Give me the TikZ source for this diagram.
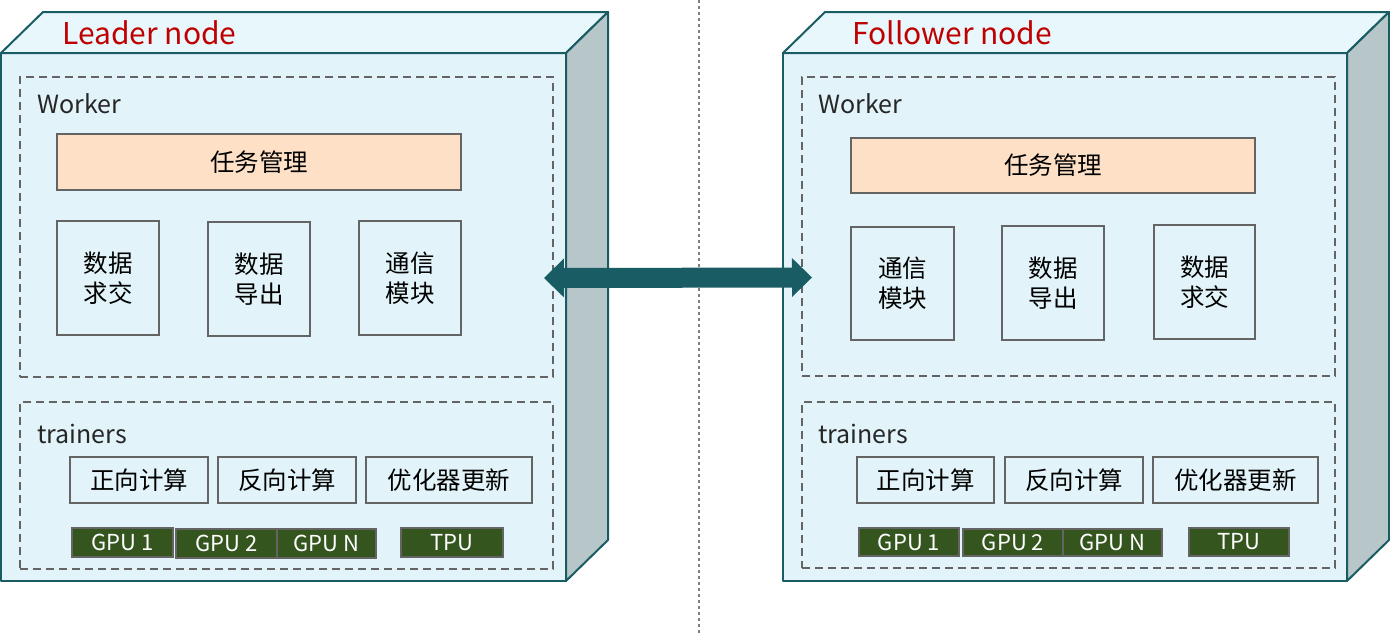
\documentclass[tikz,border=0pt]{standalone}
\usepackage{fontspec}
\setmainfont{Noto Sans CJK SC}
\usetikzlibrary{arrows.meta}
\usetikzlibrary{positioning}

\definecolor{edgeteal}{RGB}{26,92,99}
\definecolor{frontcyan}{RGB}{226,244,249}
\definecolor{topcyan}{RGB}{232,247,251}
\definecolor{sidegray}{RGB}{183,198,201}
\definecolor{boxgray}{RGB}{100,100,100}
\definecolor{peach}{RGB}{253,224,198}
\definecolor{gpugreen}{RGB}{52,86,30}
\definecolor{titlered}{RGB}{192,0,0}
\definecolor{dotgray}{RGB}{128,128,128}

\newcommand\boxfont{\fontsize{24.5}{30}\selectfont}
\newcommand\titlefont{\fontsize{30}{34}\selectfont}
\newcommand\groupfont{\fontsize{25}{29}\selectfont}
\newcommand\gpufont{\fontsize{22}{26}\selectfont}

\tikzset{
  frontface/.style={draw=edgeteal, line width=2pt, line join=round, fill=frontcyan},
  topface/.style={draw=edgeteal, line width=2pt, line join=round, fill=topcyan},
  sideface/.style={draw=edgeteal, line width=2pt, line join=round, fill=sidegray},
  group/.style={draw=boxgray, line width=2pt, dash pattern=on 8pt off 5pt, inner sep=0pt},
  plainbox/.style={draw=boxgray, line width=2pt, inner sep=0pt, align=center, font=\boxfont},
  taskbox/.style={plainbox, fill=peach},
  gpubox/.style={draw=boxgray, line width=2pt, fill=gpugreen, inner sep=0pt, text=white, font=\gpufont},
  nodetitle/.style={anchor=base west, inner sep=0pt, text=titlered, font=\titlefont},
  grouptitle/.style={anchor=base west, inner sep=0pt, text=black!85, font=\groupfont},
  link/.style={draw=edgeteal, line width=20pt,
    {Triangle[length=20pt,width=39pt,line width=0pt]}-{Triangle[length=20pt,width=39pt,line width=0pt]}},
  divider/.style={draw=dotgray, line width=2pt, dash pattern=on 3pt off 3pt}
}

\begin{document}
\begin{tikzpicture}[x=1pt,y=-1pt]
\useasboundingbox (0,0) rectangle (1390,633);

% divider
\draw[divider] (699,0) -- (699,633);

% leader node
\draw[frontface] (1,53) rectangle (566,581);
\draw[topface] (1,53) -- (43,12) -- (608,12) -- (566,53) -- cycle;
\draw[sideface] (566,53) -- (608,12) -- (608,540) -- (566,581) -- cycle;
\node[nodetitle] (lname) at (62,44) {Leader node};

\node[group, minimum width=533pt, minimum height=300pt] (lw) at (286.5,227) {};
\node[grouptitle] at (37,113) {Worker};
\node[taskbox, minimum width=404pt, minimum height=56pt] (ltask) at (259,162) {任务管理};
\node[plainbox, minimum width=102pt, minimum height=114pt] (lsec) at (108,278) {数据\\求交};
\node[plainbox, minimum width=102pt, minimum height=114pt] (lexp) at (259,279) {数据\\导出};
\node[plainbox, minimum width=102pt, minimum height=114pt] (lcom) at (410,278) {通信\\模块};

\node[group, minimum width=533pt, minimum height=167pt] (lt) at (286.5,485.5) {};
\node[grouptitle] at (37,443) {trainers};
\node[plainbox, minimum width=138pt, minimum height=46pt] (lfwd) at (139,480) {正向计算};
\node[plainbox, minimum width=138pt, minimum height=46pt] (lbwd) at (287,480) {反向计算};
\node[plainbox, minimum width=166pt, minimum height=46pt] (lopt) at (449,480) {优化器更新};
\node[gpubox, minimum width=101pt, minimum height=29pt] (lg1) at (122.5,542.5) {GPU 1};
\node[gpubox, minimum width=101pt, minimum height=29pt] (lg2) at (226.5,543.5) {GPU 2};
\node[gpubox, minimum width=99pt, minimum height=29pt] (lgn) at (326.5,543.5) {GPU N};
\node[gpubox, minimum width=102pt, minimum height=29pt] (ltpu) at (452,542.5) {TPU};

% follower node
\draw[frontface] (783,53) rectangle (1347,581);
\draw[topface] (783,53) -- (825,12) -- (1389,12) -- (1347,53) -- cycle;
\draw[sideface] (1347,53) -- (1389,12) -- (1389,540) -- (1347,581) -- cycle;
\node[nodetitle] (fname) at (852,44) {Follower node};

\node[group, minimum width=533pt, minimum height=299pt] (fw) at (1068.5,226.5) {};
\node[grouptitle] at (818,113) {Worker};
\node[taskbox, minimum width=404pt, minimum height=55pt] (ftask) at (1053,165.5) {任务管理};
\node[plainbox, minimum width=103pt, minimum height=113pt] (fcom) at (902.5,283.5) {通信\\模块};
\node[plainbox, minimum width=102pt, minimum height=114pt] (fexp) at (1053,283) {数据\\导出};
\node[plainbox, minimum width=101pt, minimum height=114pt] (fsec) at (1204.5,282) {数据\\求交};

\node[group, minimum width=533pt, minimum height=166pt] (ft) at (1068.5,485) {};
\node[grouptitle] at (818,443) {trainers};
\node[plainbox, minimum width=137pt, minimum height=46pt] (ffwd) at (925.5,480) {正向计算};
\node[plainbox, minimum width=138pt, minimum height=46pt] (fbwd) at (1074,480) {反向计算};
\node[plainbox, minimum width=165pt, minimum height=46pt] (fopt) at (1235.5,480) {优化器更新};
\node[gpubox, minimum width=100pt, minimum height=28pt] (fg1) at (909,542) {GPU 1};
\node[gpubox, minimum width=100pt, minimum height=27pt] (fg2) at (1013,542.5) {GPU 2};
\node[gpubox, minimum width=99pt, minimum height=27pt] (fgn) at (1112.5,542.5) {GPU N};
\node[gpubox, minimum width=100pt, minimum height=28pt] (ftpu) at (1239,542) {TPU};

% worker link
\draw[link] ([shift={(-10,51)}]lw.east) -- ([shift={(11,51)}]fw.west);
\end{tikzpicture}
\end{document}
